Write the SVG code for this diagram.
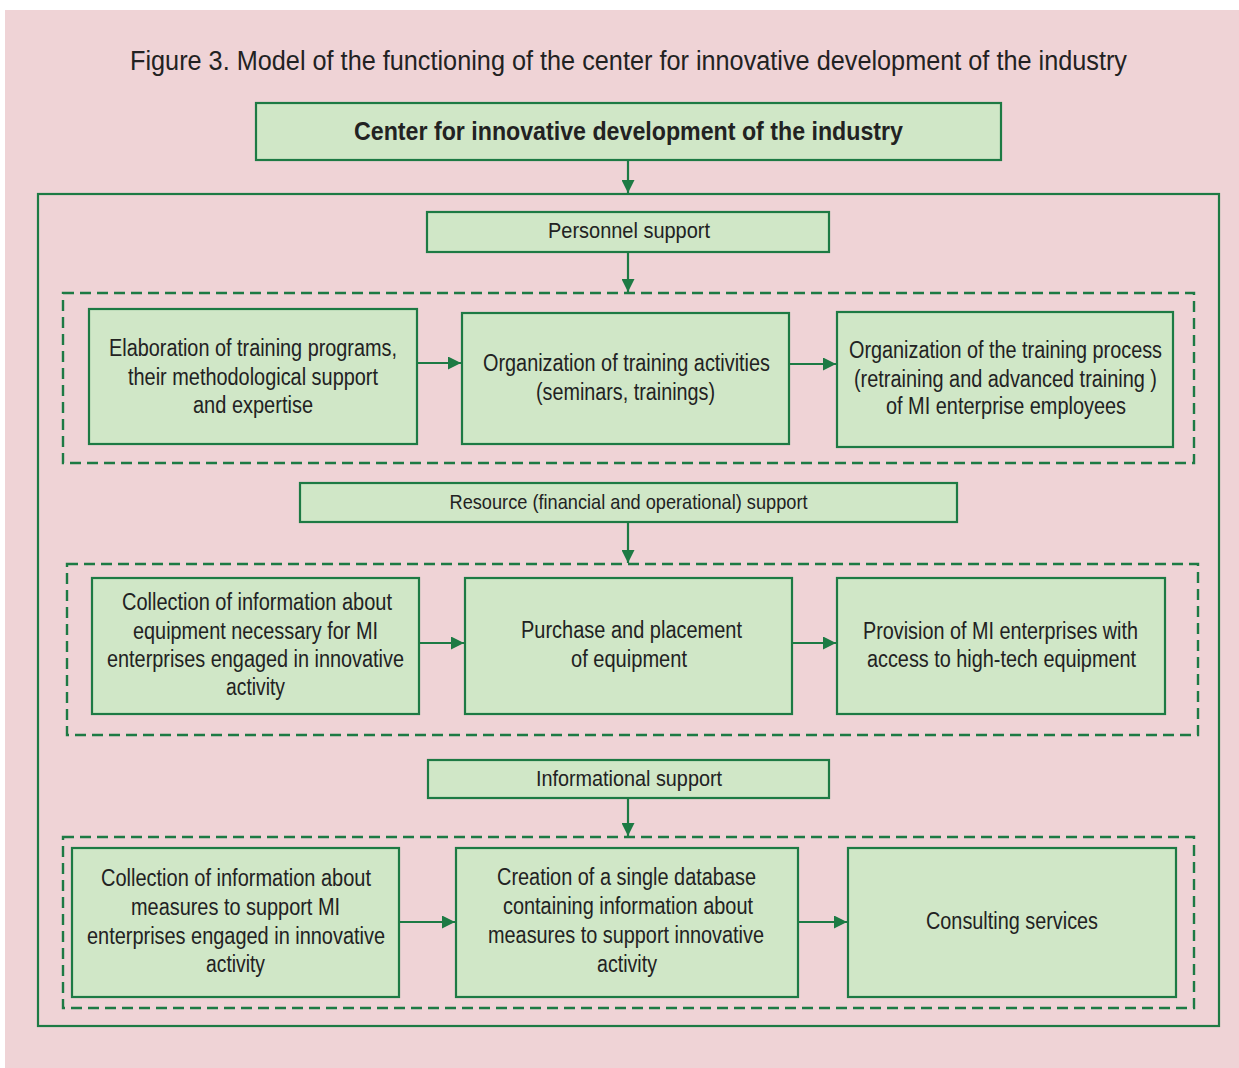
<svg xmlns="http://www.w3.org/2000/svg" width="1239" height="1068" viewBox="0 0 1239 1068">
<style>
.box{fill:#d0e7c7;stroke:#1d7a44;stroke-width:2.2}
.dash{fill:none;stroke:#1d7a44;stroke-width:2.4;stroke-dasharray:11 6}
.outer{fill:none;stroke:#1d7a44;stroke-width:2.2}
.con{stroke:#1d7a44;stroke-width:2.2;fill:none}
text{font-family:"Liberation Sans",Arial,Helvetica,sans-serif;fill:#222;text-anchor:middle}
.t{font-size:23px}
.h{font-size:22px}
.r{font-size:21px}
.b{font-size:25px;font-weight:bold}
.title{font-size:27px}
</style>
<defs>
<marker id="ah" markerUnits="userSpaceOnUse" markerWidth="14" markerHeight="13" refX="13" refY="6.5" orient="auto">
<path d="M0,0 L13,6.5 L0,13 z" fill="#1d7a44"/>
</marker>
</defs>
<rect x="0" y="0" width="1239" height="1068" fill="#ffffff"/>
<rect x="5" y="10" width="1234" height="1058" fill="#efd3d6"/>
<text class="title" x="628.5" y="70" textLength="997" lengthAdjust="spacingAndGlyphs">Figure 3. Model of the functioning of the center for innovative development of the industry</text>

<rect class="outer" x="38" y="194" width="1181" height="832"/>
<rect class="dash" x="63" y="293" width="1131" height="170"/>
<rect class="dash" x="67" y="564" width="1131" height="171"/>
<rect class="dash" x="63" y="837" width="1131" height="171"/>

<g id="center">
<rect class="box" x="256" y="103" width="745" height="57"/>
<text class="b" x="628.5" y="140" textLength="549" lengthAdjust="spacingAndGlyphs">Center for innovative development of the industry</text>
</g>

<g id="personnel">
<rect class="box" x="427" y="212" width="402" height="40"/>
<text class="h" x="629" y="238" textLength="162" lengthAdjust="spacingAndGlyphs">Personnel support</text>
</g>

<g id="p1">
<rect class="box" x="89" y="309" width="328" height="135"/>
<text class="t" x="253" y="356" textLength="288" lengthAdjust="spacingAndGlyphs">Elaboration of training programs,</text>
<text class="t" x="253" y="385" textLength="250" lengthAdjust="spacingAndGlyphs">their methodological support</text>
<text class="t" x="253" y="413" textLength="120" lengthAdjust="spacingAndGlyphs">and expertise</text>
</g>

<g id="p2">
<rect class="box" x="462" y="313" width="327" height="131"/>
<text class="t" x="626.5" y="371" textLength="287" lengthAdjust="spacingAndGlyphs">Organization of training activities</text>
<text class="t" x="625.5" y="400" textLength="179" lengthAdjust="spacingAndGlyphs">(seminars, trainings)</text>
</g>

<g id="p3">
<rect class="box" x="837" y="312" width="336" height="135"/>
<text class="t" x="1005.5" y="358" textLength="313" lengthAdjust="spacingAndGlyphs">Organization of the training process</text>
<text class="t" x="1005.5" y="387" textLength="303" lengthAdjust="spacingAndGlyphs">(retraining and advanced training )</text>
<text class="t" x="1006" y="414" textLength="240" lengthAdjust="spacingAndGlyphs">of MI enterprise employees</text>
</g>

<g id="resource">
<rect class="box" x="300" y="483" width="657" height="39"/>
<text class="r" x="628.5" y="509" textLength="358" lengthAdjust="spacingAndGlyphs">Resource (financial and operational) support</text>
</g>

<g id="r1">
<rect class="box" x="92" y="578" width="327" height="136"/>
<text class="t" x="257" y="610" textLength="270" lengthAdjust="spacingAndGlyphs">Collection of information about</text>
<text class="t" x="255.5" y="639" textLength="245" lengthAdjust="spacingAndGlyphs">equipment necessary for MI</text>
<text class="t" x="255.5" y="667" textLength="297" lengthAdjust="spacingAndGlyphs">enterprises engaged in innovative</text>
<text class="t" x="255.5" y="695" textLength="59" lengthAdjust="spacingAndGlyphs">activity</text>
</g>

<g id="r2">
<rect class="box" x="465" y="578" width="327" height="136"/>
<text class="t" x="631.5" y="638" textLength="221" lengthAdjust="spacingAndGlyphs">Purchase and placement</text>
<text class="t" x="629" y="667" textLength="116" lengthAdjust="spacingAndGlyphs">of equipment</text>
</g>

<g id="r3">
<rect class="box" x="837" y="578" width="328" height="136"/>
<text class="t" x="1000.5" y="639" textLength="275" lengthAdjust="spacingAndGlyphs">Provision of MI enterprises with</text>
<text class="t" x="1001.5" y="667" textLength="269" lengthAdjust="spacingAndGlyphs">access to high-tech equipment</text>
</g>

<g id="informational">
<rect class="box" x="428" y="760" width="401" height="38"/>
<text class="h" x="629" y="786" textLength="186" lengthAdjust="spacingAndGlyphs">Informational support</text>
</g>

<g id="i1">
<rect class="box" x="72" y="848" width="327" height="149"/>
<text class="t" x="236" y="886" textLength="270" lengthAdjust="spacingAndGlyphs">Collection of information about</text>
<text class="t" x="235.5" y="915" textLength="209" lengthAdjust="spacingAndGlyphs">measures to support MI</text>
<text class="t" x="236" y="944" textLength="298" lengthAdjust="spacingAndGlyphs">enterprises engaged in innovative</text>
<text class="t" x="235.5" y="972" textLength="59" lengthAdjust="spacingAndGlyphs">activity</text>
</g>

<g id="i2">
<rect class="box" x="456" y="848" width="342" height="149"/>
<text class="t" x="626.5" y="885" textLength="259" lengthAdjust="spacingAndGlyphs">Creation of a single database</text>
<text class="t" x="628" y="914" textLength="250" lengthAdjust="spacingAndGlyphs">containing information about</text>
<text class="t" x="626" y="943" textLength="276" lengthAdjust="spacingAndGlyphs">measures to support innovative</text>
<text class="t" x="627" y="972" textLength="60" lengthAdjust="spacingAndGlyphs">activity</text>
</g>

<g id="i3">
<rect class="box" x="848" y="848" width="328" height="149"/>
<text class="t" x="1012" y="929" textLength="172" lengthAdjust="spacingAndGlyphs">Consulting services</text>
</g>

<g id="connectors">
<line class="con" x1="628" y1="161" x2="628" y2="193" marker-end="url(#ah)"/>
<line class="con" x1="628" y1="253" x2="628" y2="292" marker-end="url(#ah)"/>
<line class="con" x1="628" y1="523" x2="628" y2="563" marker-end="url(#ah)"/>
<line class="con" x1="628" y1="799" x2="628" y2="836" marker-end="url(#ah)"/>
<line class="con" x1="418" y1="363" x2="461" y2="363" marker-end="url(#ah)"/>
<line class="con" x1="790" y1="364" x2="836" y2="364" marker-end="url(#ah)"/>
<line class="con" x1="420" y1="643" x2="464" y2="643" marker-end="url(#ah)"/>
<line class="con" x1="793" y1="643" x2="836" y2="643" marker-end="url(#ah)"/>
<line class="con" x1="400" y1="922" x2="455" y2="922" marker-end="url(#ah)"/>
<line class="con" x1="799" y1="922" x2="847" y2="922" marker-end="url(#ah)"/>
</g>
</svg>
